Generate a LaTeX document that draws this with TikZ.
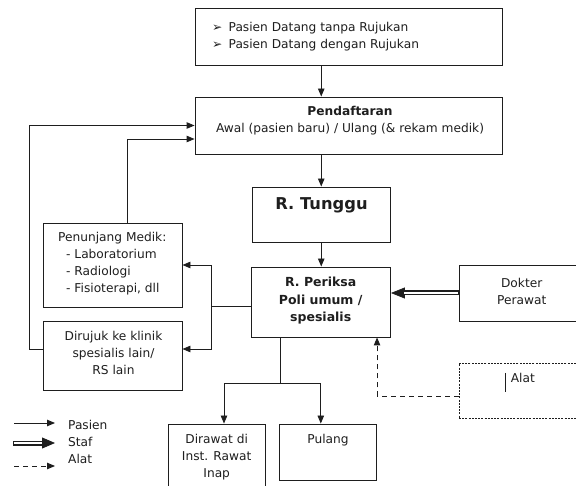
\documentclass[tikz,border=0pt]{standalone}
\usepackage{fontspec}
\setmainfont{DejaVu Sans}
\usetikzlibrary{arrows.meta,calc}

\definecolor{ink}{HTML}{1E1E1E}
\newcommand\bodyfont{\fontsize{12.2}{17}\selectfont}

\tikzset{
  box/.style={draw=ink, line width=0.9pt, inner sep=0pt},
  toolbox/.style={box, dash pattern=on 2pt off 1.2pt},
  lbl/.style={inner sep=0pt, font=\bodyfont, align=center, text=ink},
  link/.style={draw=ink, line width=0.9pt},
  flow/.style={link, -{Triangle[length=8pt,width=6.5pt]}},
  toolflow/.style={flow, dash pattern=on 5pt off 4pt},
  staf/.style={draw=ink, line width=0.8pt, -{Triangle[length=14pt,width=11pt]},
    preaction={draw=ink, line width=5pt, shorten >=12pt, -},
    postaction={draw=white, line width=2.4pt, shorten >=13pt, shorten <=0.6pt, -}}
}

\begin{document}
\begin{tikzpicture}[x=1pt,y=-1pt]
\useasboundingbox (0,0) rectangle (576,486);

% boxes
\node[box, minimum width=307pt, minimum height=57pt]   (src)   at (348.5,36.5) {};
\node[box, minimum width=307pt, minimum height=57pt]   (reg)   at (348.5,125.5) {};
\node[box, minimum width=138.5pt, minimum height=55pt] (tun)   at (321.25,214.5) {};
\node[box, minimum width=139.5pt, minimum height=70pt] (exam)  at (320.75,302) {};
\node[box, minimum width=126pt, minimum height=56pt]   (doc)   at (522,293) {};
\node[toolbox, minimum width=151pt, minimum height=55pt] (tool) at (534.5,390.5) {};
\node[box, minimum width=139pt, minimum height=84pt]   (supp)  at (112.5,265) {};
\node[box, minimum width=139pt, minimum height=69pt]   (refer) at (112.5,355.5) {};
\node[box, minimum width=97pt, minimum height=71pt]    (ward)  at (216.5,459.5) {};
\node[box, minimum width=97.6pt, minimum height=56pt]  (home)  at (327.8,452) {};

% box texts
\node[lbl, anchor=west, align=left] (srctxt) at (212,36.8)
  {\makebox[16.5pt][l]{➢}Pasien Datang tanpa Rujukan\\\makebox[16.5pt][l]{➢}Pasien Datang dengan Rujukan};
\node[lbl] (regtxt) at (350,121)
  {\textbf{Pendaftaran}\\Awal (pasien baru) / Ulang (\& rekam medik)};
\node[lbl, font=\bfseries\fontsize{16.3}{20}\selectfont] (tuntxt) at (321.5,205.7) {R. Tunggu};
\node[lbl, font=\bfseries\fontsize{12.5}{17.5}\selectfont] (examtxt) at (320.7,301)
  {R. Periksa\\Poli umum /\\spesialis};
\node[lbl] (doctxt) at (521.7,291.8) {Dokter\\Perawat};
\node[lbl, anchor=west] (tooltxt) at (510.6,378) {Alat};
\draw[ink, line width=0.8pt] (505,373) -- (505,392);
\node[lbl, anchor=west, align=left] (supptxt) at (58,264)
  {Penunjang Medik:\\\hspace*{8pt}- Laboratorium\\\hspace*{8pt}- Radiologi\\\hspace*{8pt}- Fisioterapi, dll};
\node[lbl] (refertxt) at (113.5,353) {Dirujuk ke klinik\\spesialis lain/\\RS lain};
\node[lbl] (wardtxt) at (216.7,457) {Dirawat di\\Inst. Rawat\\Inap};
\node[lbl] (hometxt) at (328,440.5) {Pulang};

% patient flow
\draw[flow] (tun.north |- src.south) -- (tun.north |- reg.north);
\draw[flow] (tun.north |- reg.south) -- (tun.north);
\draw[flow] (tun.south) -- (tun.south |- exam.north);

% staff and equipment
\draw[staf] (doc.west) -- (doc.west -| exam.east);
\coordinate (toolout) at ($(tool.west)+(0,5.5)$);
\draw[toolflow] (toolout) -| (exam.south -| home.east);

% referral branch
\coordinate (split) at (211,306);
\draw[link] (exam.west |- split) -- (split);
\draw[flow] (split) |- (supp.east);
\draw[flow] (split) |- ($(refer.east)+(0,-6.5)$);
\draw[flow] ($(supp.north)+(14.5,0)$) |- ($(reg.west)+(0,13.5)$);
\coordinate (loopx) at (29.4,0);
\draw[flow] ($(refer.west)+(0,-6.5)$) -| (loopx |- reg.west) -- (reg.west);

% discharge branch
\coordinate (fork) at (280,383);
\draw[link] (exam.south -| fork) -- (fork);
\draw[flow] (fork) -| ($(ward.north)+(7.5,0)$);
\draw[flow] (fork) -| ($(home.north)+(-7,0)$);

% legend
\coordinate (lgpa) at (14,423);  \coordinate (lgpb) at (55,423);
\coordinate (lgsa) at (13,443);  \coordinate (lgsb) at (55,443);
\coordinate (lgta) at (14,466);  \coordinate (lgtb) at (55,466);
\draw[flow] (lgpa) -- (lgpb);
\draw[staf, -{Triangle[length=13pt,width=11pt]}] (lgsa) -- (lgsb);
\draw[toolflow] (lgta) -- (lgtb);
\node[lbl, anchor=west] (lgp) at (68,425) {Pasien};
\node[lbl, anchor=west] (lgs) at (68,442) {Staf};
\node[lbl, anchor=west] (lgt) at (68,459) {Alat};
\end{tikzpicture}
\end{document}
